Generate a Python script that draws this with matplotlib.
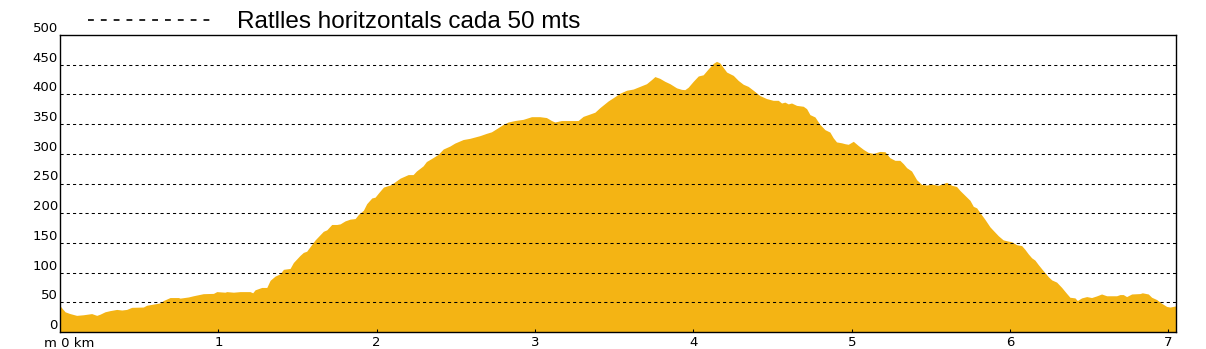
import matplotlib
matplotlib.use("Agg")
import matplotlib.pyplot as plt
import numpy as np

# perfil d'elevacio (km, m)
distancia_km = [0.0, 0.032, 0.063, 0.105, 0.147, 0.200, 0.232, 0.253, 0.284, 0.316,
                0.358, 0.390, 0.421, 0.453, 0.526, 0.547, 0.590, 0.632, 0.653, 0.695,
                0.748, 0.758, 0.811, 0.842, 0.905, 0.969, 0.990, 1.042, 1.053, 1.095,
                1.137, 1.200, 1.217, 1.232, 1.274, 1.306, 1.327, 1.358, 1.390, 1.411,
                1.453, 1.474, 1.516, 1.537, 1.558, 1.569, 1.611, 1.663, 1.685, 1.716,
                1.748, 1.769, 1.800, 1.832, 1.864, 1.885, 1.916, 1.937, 1.969, 1.990,
                2.011, 2.043, 2.085, 2.106, 2.148, 2.199, 2.230, 2.251, 2.293, 2.314,
                2.346, 2.388, 2.420, 2.462, 2.493, 2.546, 2.588, 2.651, 2.693, 2.725,
                2.767, 2.799, 2.830, 2.872, 2.925, 2.978, 3.030, 3.072, 3.104, 3.125,
                3.167, 3.199, 3.272, 3.304, 3.336, 3.378, 3.409, 3.462, 3.494, 3.536,
                3.578, 3.620, 3.662, 3.704, 3.736, 3.757, 3.788, 3.820, 3.852, 3.894,
                3.925, 3.946, 3.967, 3.999, 4.031, 4.062, 4.094, 4.125, 4.146, 4.167,
                4.210, 4.252, 4.283, 4.315, 4.346, 4.378, 4.420, 4.462, 4.504, 4.536,
                4.557, 4.578, 4.599, 4.620, 4.652, 4.694, 4.715, 4.736, 4.768, 4.799,
                4.831, 4.862, 4.883, 4.904, 4.936, 4.957, 4.978, 5.010, 5.041, 5.073,
                5.104, 5.136, 5.178, 5.210, 5.241, 5.273, 5.304, 5.326, 5.347, 5.378,
                5.410, 5.441, 5.473, 5.505, 5.547, 5.578, 5.599, 5.631, 5.662, 5.683,
                5.715, 5.747, 5.768, 5.789, 5.810, 5.841, 5.873, 5.894, 5.926, 5.957,
                5.989, 6.010, 6.041, 6.073, 6.094, 6.115, 6.136, 6.157, 6.178, 6.210,
                6.242, 6.263, 6.294, 6.326, 6.357, 6.378, 6.410, 6.425, 6.452, 6.484,
                6.515, 6.547, 6.578, 6.610, 6.673, 6.694, 6.715, 6.736, 6.768, 6.821,
                6.835, 6.873, 6.894, 6.926, 6.957, 6.989, 7.010, 7.048]
altitud_m = [44, 34, 31, 28, 29, 31, 28, 30, 34, 36,
             38, 37, 38, 41.5, 42, 45, 47, 49, 53, 58,
             58, 57, 59, 61, 64.5, 65, 68, 67, 68, 67,
             68, 68, 66, 71, 75, 75, 87, 94, 98, 105.5,
             107, 117, 129, 134, 136, 140, 155, 169.5, 172, 181,
             181, 182, 187, 190, 191, 198, 205, 216, 225.6, 227,
             234, 244, 247.5, 251, 259, 265, 265, 271, 279.6, 287,
             292, 299, 308, 313, 318, 324, 326, 330.5, 334.4, 337,
             344, 349.5, 353.5, 356, 358, 362.5, 362.5, 361, 356, 353.5,
             356, 356, 356, 363, 366, 370, 377.6, 389, 394.5, 402,
             407, 409, 413.5, 418, 425, 430, 427, 422, 418, 411,
             408.5, 408, 412, 422, 431, 433, 443, 452, 455.6, 453,
             437.6, 432, 423.6, 417, 413.5, 407, 398, 393, 390, 390,
             385.5, 387, 384, 385.5, 381.5, 380, 376, 366, 362, 349.5,
             340.6, 336.6, 327, 320, 318.5, 317, 316, 321, 314, 307.5,
             302.4, 300.7, 304, 303.5, 293.4, 289, 289, 283.3, 276.6, 271,
             256.4, 248.5, 247.4, 249, 247, 250, 252, 247, 245, 238.4,
             230, 221.6, 211.5, 209, 201, 189.7, 177, 171, 162, 155,
             153, 152, 147, 145.5, 139, 131.5, 125, 121, 113.5, 103,
             93, 87.7, 84, 75, 65, 58.5, 57.4, 53, 57.4, 59.6,
             58, 60.8, 64, 61, 61, 63, 63, 59.6, 64, 64.7,
             66, 64, 58.5, 54.6, 48.4, 43, 42, 44]

ratlles = [50, 100, 150, 200, 250, 300, 350, 400, 450]
ticks_y = [0, 50, 100, 150, 200, 250, 300, 350, 400, 450, 500]
ticks_x = [1, 2, 3, 4, 5, 6, 7]

W, H = 1206, 349
fig = plt.figure(figsize=(W / 100, H / 100), dpi=100)
ax = fig.add_axes([60 / W, (H - 332) / H, (1176 - 60) / W, (332 - 35) / H])

ax.fill_between(distancia_km, altitud_m, 0, color='#F4B414', linewidth=0, zorder=1)

for r in ratlles:
    ax.axhline(r, color='black', lw=0.75, linestyle=(0, (3, 3)), zorder=2)

ax.set_xlim(0, 7.048)
ax.set_ylim(0, 500)

ax.set_yticks(ticks_y)
ax.set_yticklabels([])
for v in ticks_y:
    # etiquetes a sobre de cada ratlla, alineades a la dreta
    ax.annotate(str(v), xy=(0, v), xycoords=('axes fraction', 'data'),
                xytext=(-1.5, 0), textcoords='offset points',
                ha='right', va='bottom', fontsize=9.5, family='DejaVu Sans')
ax.tick_params(axis='y', length=0)

ax.set_xticks(ticks_x)
ax.set_xticklabels([str(t) for t in ticks_x], fontsize=9.5, family='DejaVu Sans')
ax.tick_params(axis='x', direction='in', length=2.5, width=0.75, pad=3)
ax.annotate('m 0 km', xy=(0, 0), xycoords='axes fraction',
            xytext=(-11.5, -3.5), textcoords='offset points',
            ha='left', va='top', fontsize=9.5, family='DejaVu Sans')

for s in ax.spines.values():
    s.set_linewidth(1.0)

# llegenda de dalt
fig.add_artist(plt.Line2D([88 / W, 215 / W], [(H - 20) / H, (H - 20) / H],
                          color='black', lw=1.2, linestyle=(0, (3.5, 4.2))))
fig.text(237 / W, (H - 27.5) / H, 'Ratlles horitzontals cada 50 mts',
         ha='left', va='baseline', fontsize=17.5,
         family=['Liberation Sans Narrow', 'Liberation Sans', 'DejaVu Sans'])

fig.savefig('out.png', dpi=100)
